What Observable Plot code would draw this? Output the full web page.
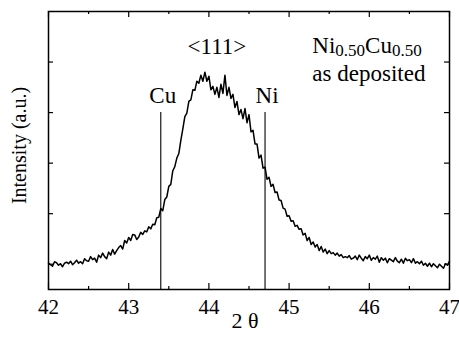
<!DOCTYPE html>
<html>
<head>
<meta charset="utf-8">
<script src="https://cdn.jsdelivr.net/npm/d3@7"></script>
<script src="https://cdn.jsdelivr.net/npm/@observablehq/plot@0.6"></script>
<style>
  html, body { margin: 0; padding: 0; background: #fff; }
  #chart svg { display: block; }
</style>
</head>
<body>
<div id="chart"></div>
<script>
// 2θ grid (degrees), step 0.025 from 42 to 47
const twoThetaStart = 42;
const twoThetaStep = 0.025;

// Intensity (arbitrary units), one value per grid step
const intensity = [
  2, -1, -4, 5, 3, -2, 1, -5, 2, 4,
  1, 6, -1, 3, 8, 2, 5, 1, 11, 7,
  6, 15, 9, 12, 4, 18, 13, 22, 15, 11,
  24, 18, 29, 20, 27, 33, 37, 30, 47, 42,
  53, 47, 59, 58, 49, 54, 63, 59, 66, 64,
  74, 70, 79, 78, 92, 93, 110, 106, 128, 133,
  154, 158, 185, 193, 210, 219, 245, 268, 292, 299,
  322, 325, 345, 344, 362, 358, 374, 362, 380, 362,
  372, 345, 352, 336, 350, 330, 356, 338, 374, 334,
  350, 328, 336, 310, 322, 296, 306, 288, 308, 280,
  296, 262, 265, 238, 238, 210, 216, 190, 192, 168,
  172, 154, 158, 142, 143, 127, 126, 111, 109, 95,
  96, 85, 86, 75, 77, 69, 70, 58, 61, 47,
  53, 39, 44, 34, 39, 27, 35, 24, 30, 21,
  27, 21, 23, 18, 22, 16, 19, 13, 15, 13,
  17, 10, 12, 16, 9, 18, 12, 7, 15, 11,
  18, 8, 13, 10, 16, 4, 13, 8, 12, 3,
  11, 8, 5, 13, 6, 3, 10, 2, 12, 7,
  9, 3, 11, 2, 5, 1, 6, -2, 2, -4,
  2, -5, 1, -3, -7, 0, -4, -8, 1, -2,
  6
];

// Reference line positions (2θ) and their labels
const refPhases = ["Cu", "Ni"];
const refPositions = [43.4, 44.7];
const refTop = 300;

// Tick values
const xMajorTicks = [42, 43, 44, 45, 46, 47];
const xMinorTicks = [42.5, 43.5, 44.5, 45.5, 46.5];
const yTicks = [0, 100, 200, 300, 400];

// Texts
const peakLabel = "<111>";
const sampleLabel = "Ni0.50Cu0.50";
const stateLabel = "as deposited";
const xTitle = "2 θ";
const yTitle = "Intensity (a.u.)";

const spectrum = intensity.map((v, i) => ({ t: twoThetaStart + i * twoThetaStep, v }));
const refs = refPhases.map((p, i) => ({ phase: p, pos: refPositions[i], top: refTop }));

const W = 459, H = 338;
const mL = 48, mR = 10, mT = 11, mB = 49;
const innerH = H - mT - mB;
const innerW = W - mL - mR;
const font = "Liberation Serif, Times New Roman, serif";

const chart = Plot.plot({
  width: W,
  height: H,
  marginLeft: mL,
  marginRight: mR,
  marginTop: mT,
  marginBottom: mB,
  x: { domain: [42, 47] },
  y: { domain: [-50, 500], axis: null },
  style: { fontFamily: font, fontSize: "22px", background: "#fff", color: "#000" },
  marks: [
    // inward ticks: bottom / top
    Plot.tickX(xMajorTicks, { x: d => d, insetTop: innerH - 6, stroke: "#000", strokeWidth: 1.2 }),
    Plot.tickX(xMajorTicks, { x: d => d, insetBottom: innerH - 6, stroke: "#000", strokeWidth: 1.2 }),
    Plot.tickX(xMinorTicks, { x: d => d, insetTop: innerH - 3, stroke: "#000", strokeWidth: 1.2 }),
    Plot.tickX(xMinorTicks, { x: d => d, insetBottom: innerH - 3, stroke: "#000", strokeWidth: 1.2 }),
    // inward ticks: left / right
    Plot.tickY(yTicks, { y: d => d, insetRight: innerW - 5, stroke: "#000", strokeWidth: 1.2 }),
    Plot.tickY(yTicks, { y: d => d, insetLeft: innerW - 5, stroke: "#000", strokeWidth: 1.2 }),
    // reference lines
    Plot.ruleX(refs, { x: "pos", y1: -50, y2: "top", stroke: "#000", strokeWidth: 1.1 }),
    Plot.text(refs, { x: "pos", y: "top", text: "phase", dy: -10, dx: 2, lineAnchor: "bottom", fontFamily: font, fontSize: 23, fill: "#000" }),
    // diffraction pattern
    Plot.line(spectrum, { x: "t", y: "v", stroke: "#000", strokeWidth: 1.5, strokeLinejoin: "round" }),
    // frame
    Plot.frame({ stroke: "#000", strokeWidth: 1.5 }),
    // x axis tick labels
    Plot.axisX({ ticks: xMajorTicks, tickFormat: d => String(d), tickSize: 0, tickPadding: 10, label: null, fontFamily: font, fontSize: 21, fill: "#000" }),
    // axis titles
    Plot.text([xTitle], { text: d => d, frameAnchor: "bottom", textAnchor: "middle", dx: -4, dy: 38, lineAnchor: "bottom", fontFamily: font, fontSize: 22, fill: "#000" }),
    Plot.text([yTitle], { text: d => d, frameAnchor: "left", textAnchor: "middle", rotate: -90, dx: -29, dy: -5, lineAnchor: "middle", fontFamily: font, fontSize: 20, fill: "#000" }),
    // annotations
    Plot.text([peakLabel], { text: d => d, x: [44.1], frameAnchor: "top", textAnchor: "middle", dy: 42, lineAnchor: "bottom", fontFamily: font, fontSize: 23, fill: "#000" }),
    Plot.text([sampleLabel], { text: d => d, x: [45.29], frameAnchor: "top", dy: 41, textAnchor: "start", lineAnchor: "bottom", fontFamily: font, fontSize: 23, fill: "#000" }),
    Plot.text([stateLabel], { text: d => d, x: [45.29], frameAnchor: "top", dy: 69, textAnchor: "start", lineAnchor: "bottom", fontFamily: font, fontSize: 23, fill: "#000" })
  ]
});

document.getElementById("chart").appendChild(chart);

// Render subscripts in the sample label as real text tspans
d3.select(chart).selectAll("text").filter(function () { return this.textContent === sampleLabel; })
  .each(function () {
    const t = d3.select(this);
    t.text(null);
    t.append("tspan").text("Ni");
    t.append("tspan").attr("font-size", 17).attr("dy", 3).text("0.50");
    t.append("tspan").attr("dy", -3).text("Cu");
    t.append("tspan").attr("font-size", 17).attr("dy", 3).text("0.50");
  });
</script>
</body>
</html>
